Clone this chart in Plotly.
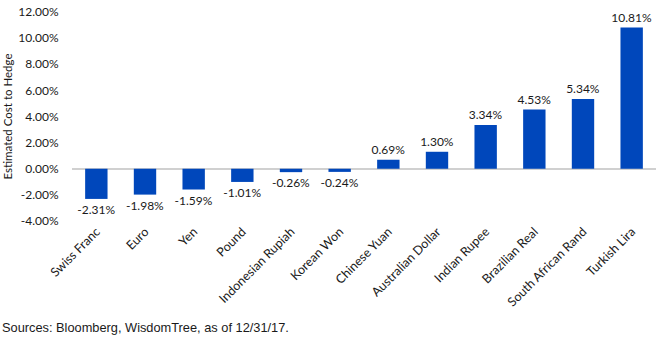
import plotly.graph_objects as go

categories = ["Swiss Franc", "Euro", "Yen", "Pound", "Indonesian Rupiah", "Korean Won",
              "Chinese Yuan", "Australian Dollar", "Indian Rupee", "Brazilian Real",
              "South African Rand", "Turkish Lira"]
values = [-2.31, -1.98, -1.59, -1.01, -0.26, -0.24, 0.69, 1.30, 3.34, 4.53, 5.34, 10.81]
tick_vals = [-4, -2, 0, 2, 4, 6, 8, 10, 12]

font_main = "Lato, Calibri, Carlito, 'Open Sans', sans-serif"

fig = go.Figure(go.Bar(
    x=categories, y=values,
    marker=dict(color="#0047BB", line=dict(width=0)),
    width=0.46,
    text=[f"{v:.2f}%" for v in values],
    textposition="outside",
    constraintext="none",
    textfont=dict(family=font_main, size=12, color="#1a1a1a"),
    cliponaxis=False,
))

fig.update_layout(
    width=671, height=348,
    margin=dict(l=72, r=15, t=12, b=127),
    paper_bgcolor="white", plot_bgcolor="white",
    showlegend=False,
    xaxis=dict(
        tickangle=-45,
        tickfont=dict(family=font_main, size=12.5, color="#1a1a1a"),
        showgrid=False, showline=False, ticks="",
        automargin=False,
    ),
    yaxis=dict(
        range=[-4, 12],
        tickvals=tick_vals,
        ticktext=[f"{v:.2f}%" for v in tick_vals],
        tickfont=dict(family=font_main, size=12, color="#1a1a1a"),
        showgrid=False, showline=False,
        ticks="outside", ticklen=10, tickcolor="rgba(0,0,0,0)",
        zeroline=True, zerolinecolor="#d0d0d0", zerolinewidth=1.5,
        automargin=False,
        title=dict(text="Estimated Cost to Hedge",
                   font=dict(family=font_main, size=11.5, color="#1a1a1a"),
                   standoff=3),
    ),
    annotations=[dict(
        text="Sources: Bloomberg, WisdomTree, as of 12/31/17.",
        xref="paper", yref="paper", x=-72/584, y=-(327-221)/209,
        xanchor="left", yanchor="middle", showarrow=False,
        font=dict(family="Liberation Sans, Arial, sans-serif", size=12.8, color="#1a1a1a"),
    )],
)

fig.write_html("out.html")
